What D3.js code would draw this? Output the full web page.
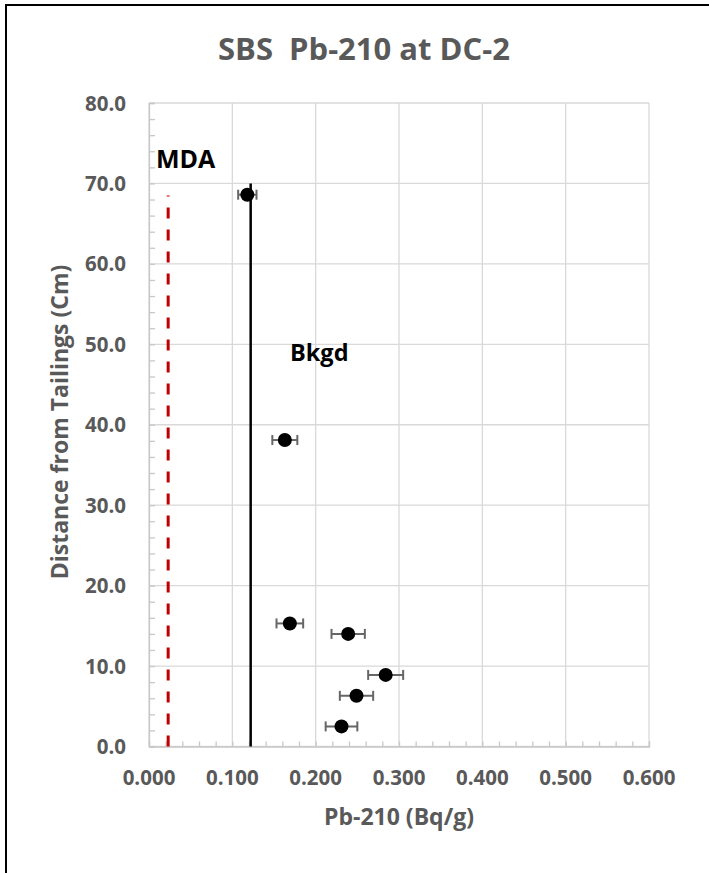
<!DOCTYPE html>
<html>
<head>
<meta charset="utf-8">
<script src="https://cdn.jsdelivr.net/npm/d3@7"></script>
<style>
  body { margin: 0; background: #fff; }
  text { font-family: "Open Sans", "Noto Sans", sans-serif; font-weight: bold; white-space: pre; }
</style>
</head>
<body>
<div id="chart"></div>
<script>
// Pb-210 vs distance from tailings

// data
var depth_cm = [68.6, 38.1, 15.3, 14.0, 8.9, 6.3, 2.5];
var pb210 = [0.118, 0.163, 0.169, 0.239, 0.284, 0.249, 0.231];
var pb210_err = [0.011, 0.015, 0.016, 0.020, 0.021, 0.020, 0.019];

var bkgd_x = [0.122, 0.122];
var bkgd_y = [0, 70];
var mda_x = [0.023, 0.023];
var mda_y = [0, 68.5];

var x_ticks = [0, 0.1, 0.2, 0.3, 0.4, 0.5, 0.6];
var y_ticks = [0, 10, 20, 30, 40, 50, 60, 70, 80];

var width = 709;
var height = 873;

var margin = {
  top: 103,
  left: 149,
  right: 60,
  bottom: 126.5
};

var grey_text = "#595959";
var grid_col = "#d9d9d9";

var svg = d3.select("#chart")
  .append("svg")
  .attr("width", width)
  .attr("height", height);

// outer frame of the chart area (runs off right and bottom)
svg.append("rect")
  .attr("x", 6)
  .attr("y", 5)
  .attr("width", width + 20)
  .attr("height", height + 20)
  .attr("fill", "white")
  .attr("stroke", "black")
  .attr("stroke-width", 2);

// scales
var x = d3.scaleLinear()
  .domain([0, 0.6])
  .range([margin.left, width - margin.right]);

var y = d3.scaleLinear()
  .domain([0, 80])
  .range([height - margin.bottom, margin.top]);

// gridlines
svg.append("g")
  .selectAll("line")
  .data(x_ticks)
  .enter()
  .append("line")
  .attr("x1", function(d) { return x(d); })
  .attr("x2", function(d) { return x(d); })
  .attr("y1", y(0))
  .attr("y2", y(80))
  .attr("stroke", grid_col)
  .attr("stroke-width", 1.3);

svg.append("g")
  .selectAll("line")
  .data(y_ticks)
  .enter()
  .append("line")
  .attr("x1", x(0))
  .attr("x2", x(0.6))
  .attr("y1", function(d) { return y(d); })
  .attr("y2", function(d) { return y(d); })
  .attr("stroke", grid_col)
  .attr("stroke-width", 1.3);

// minor ticks (inside) on x axis
var xaxis = d3.axisTop(x)
  .ticks(30)
  .tickSize(5)
  .tickFormat("");

svg.append("g")
  .attr("class", "x minor")
  .attr("transform", "translate(0," + y(0) + ")")
  .call(xaxis);

// minor ticks (inside) on y axis
var yaxis = d3.axisRight(y)
  .ticks(40)
  .tickSize(6)
  .tickFormat("");

svg.append("g")
  .attr("class", "y minor")
  .attr("transform", "translate(" + x(0) + ",0)")
  .call(yaxis);

svg.selectAll(".minor path, .minor line")
  .attr("stroke", "#c8c8c8")
  .attr("stroke-width", 1.3);

// tick labels
svg.append("g")
  .selectAll("text")
  .data(x_ticks)
  .enter()
  .append("text")
  .attr("x", function(d) { return x(d); })
  .attr("y", 785)
  .attr("text-anchor", "middle")
  .attr("fill", grey_text)
  .style("font-size", "20.5px")
  .text(function(d) { return d3.format(".3f")(d); });

svg.append("g")
  .selectAll("text")
  .data(y_ticks)
  .enter()
  .append("text")
  .attr("x", 126)
  .attr("y", function(d) { return y(d) + 7.5; })
  .attr("text-anchor", "end")
  .attr("fill", grey_text)
  .style("font-size", "20.5px")
  .text(function(d) { return d3.format(".1f")(d); });

// axis titles
svg.append("text")
  .attr("x", 399)
  .attr("y", 825)
  .attr("text-anchor", "middle")
  .attr("fill", grey_text)
  .style("font-size", "23px")
  .text("Pb-210 (Bq/g)");

svg.append("text")
  .attr("transform", "translate(68,422) rotate(-90)")
  .attr("text-anchor", "middle")
  .attr("fill", grey_text)
  .style("font-size", "23px")
  .text("Distance from Tailings (Cm)");

// chart title
svg.append("text")
  .attr("x", 364)
  .attr("y", 60)
  .attr("text-anchor", "middle")
  .attr("fill", grey_text)
  .style("font-size", "31px")
  .text("SBS  Pb-210 at DC-2");

// MDA (red dashed) and background (black) lines
var line = d3.line()
  .x(function(d) { return x(d[0]); })
  .y(function(d) { return y(d[1]); });

svg.append("path")
  .datum(d3.zip(mda_x, mda_y))
  .attr("d", line)
  .attr("fill", "none")
  .attr("stroke", "#c00000")
  .attr("stroke-width", 3)
  .attr("stroke-dasharray", "11,11");

svg.append("path")
  .datum(d3.zip(bkgd_x, bkgd_y))
  .attr("d", line)
  .attr("fill", "none")
  .attr("stroke", "black")
  .attr("stroke-width", 2.5);

// error bars
var points = d3.range(depth_cm.length).map(function(i) {
  return { x: pb210[i], y: depth_cm[i], e: pb210_err[i] };
});

var err = svg.append("g")
  .selectAll("g")
  .data(points)
  .enter()
  .append("g")
  .attr("stroke", "#666666")
  .attr("stroke-width", 2);

err.append("line")
  .attr("x1", function(d) { return x(d.x - d.e); })
  .attr("x2", function(d) { return x(d.x + d.e); })
  .attr("y1", function(d) { return y(d.y); })
  .attr("y2", function(d) { return y(d.y); });

err.append("line")
  .attr("x1", function(d) { return x(d.x - d.e); })
  .attr("x2", function(d) { return x(d.x - d.e); })
  .attr("y1", function(d) { return y(d.y) - 5; })
  .attr("y2", function(d) { return y(d.y) + 5; });

err.append("line")
  .attr("x1", function(d) { return x(d.x + d.e); })
  .attr("x2", function(d) { return x(d.x + d.e); })
  .attr("y1", function(d) { return y(d.y) - 5; })
  .attr("y2", function(d) { return y(d.y) + 5; });

// markers
svg.append("g")
  .selectAll("circle")
  .data(points)
  .enter()
  .append("circle")
  .attr("cx", function(d) { return x(d.x); })
  .attr("cy", function(d) { return y(d.y); })
  .attr("r", 7)
  .attr("fill", "black");

// labels
svg.append("text")
  .attr("x", 156)
  .attr("y", 168)
  .attr("fill", "black")
  .style("font-size", "25px")
  .text("MDA");

svg.append("text")
  .attr("x", 290)
  .attr("y", 361)
  .attr("fill", "black")
  .style("font-size", "23.5px")
  .text("Bkgd");
</script>
</body>
</html>
